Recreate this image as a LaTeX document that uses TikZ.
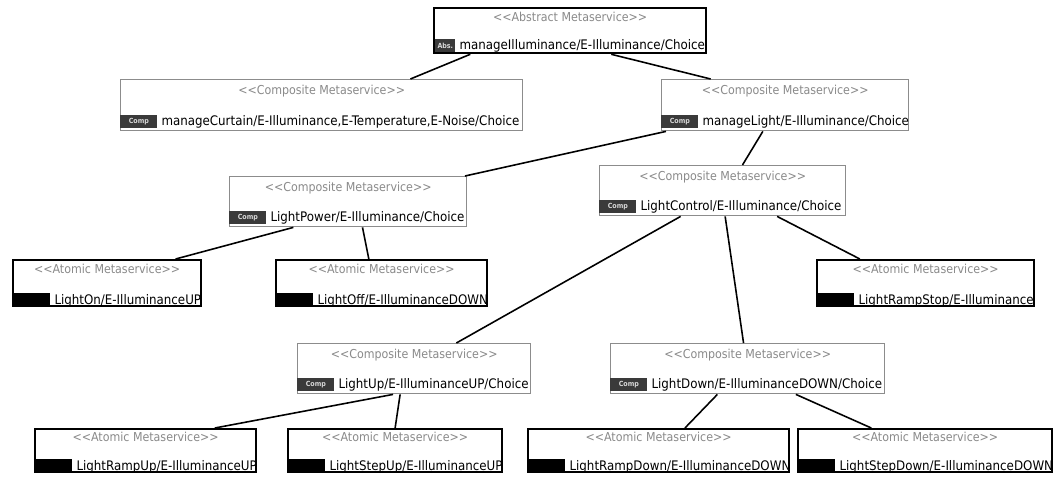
\documentclass[tikz,border=0pt]{standalone}
\usepackage{fontspec}
\usepackage{tikz}
\usetikzlibrary{positioning,calc}
\newfontfamily\metafont{DejaVu Sans Condensed}
\definecolor{tagdark}{HTML}{3A3A3A}
\definecolor{stereogray}{HTML}{8A8A8A}

\begin{document}
\begin{tikzpicture}[x=0.02cm, y=-0.02cm,
  meta/.style={rectangle, anchor=north west, inner sep=0pt, fill=white},
  abstr/.style={meta, draw=black, line width=1.3pt},
  comp/.style={meta, draw=black!45, line width=0.8pt},
  atom/.style={meta, draw=black, line width=1.3pt},
  stereo/.style={anchor=north, inner sep=0pt, text=stereogray,
                 font=\metafont\fontsize{7}{8}\selectfont},
  mname/.style={anchor=south west, inner sep=0pt,
                font=\metafont\fontsize{7.5}{9}\selectfont},
  tag/.style={anchor=south west, fill=tagdark, text=white!85!black, inner sep=0pt,
              minimum width=0.74cm, minimum height=0.26cm,
              font=\metafont\fontsize{4}{5}\selectfont\bfseries},
  atag/.style={tag, fill=black, minimum width=0.76cm, minimum height=0.28cm},
  link/.style={line width=0.9pt, color=black}
]
\useasboundingbox (0,0) rectangle (1054,477);

% abstract root
\node[abstr, minimum width=5.44cm, minimum height=0.90cm] (abs) at (433,7) {};
\node[stereo] at ($(abs.north)+(0,5)$) {<<Abstract Metaservice>>};
\node[tag, minimum width=0.40cm] (abst) at ($(abs.south west)+(2,-2)$) {Abs.};
\node[mname, right=2pt of abst.south east, anchor=south west] {manageIlluminance/E-Illuminance/Choice};

% composite services
\node[comp, minimum width=8.04cm, minimum height=1.02cm] (curtain) at (120,79) {};
\node[stereo] at ($(curtain.north)+(0,6)$) {<<Composite Metaservice>>};
\node[tag] (curtaint) at ($(curtain.south west)+(0,-3)$) {Comp};
\node[mname, right=2pt of curtaint.south east, anchor=south west] {manageCurtain/E-Illuminance,E-Temperature,E-Noise/Choice};

\node[comp, minimum width=4.94cm, minimum height=1.02cm] (light) at (661,79) {};
\node[stereo] at ($(light.north)+(0,6)$) {<<Composite Metaservice>>};
\node[tag] (lightt) at ($(light.south west)+(0,-3)$) {Comp};
\node[mname, right=2pt of lightt.south east, anchor=south west] {manageLight/E-Illuminance/Choice};

\node[comp, minimum width=4.74cm, minimum height=1.00cm] (power) at (229,176) {};
\node[stereo] at ($(power.north)+(0,6)$) {<<Composite Metaservice>>};
\node[tag] (powert) at ($(power.south west)+(0,-3)$) {Comp};
\node[mname, right=2pt of powert.south east, anchor=south west] {LightPower/E-Illuminance/Choice};

\node[comp, minimum width=4.92cm, minimum height=1.00cm] (control) at (599,165) {};
\node[stereo] at ($(control.north)+(0,6)$) {<<Composite Metaservice>>};
\node[tag] (controlt) at ($(control.south west)+(0,-3)$) {Comp};
\node[mname, right=2pt of controlt.south east, anchor=south west] {LightControl/E-Illuminance/Choice};

\node[comp, minimum width=4.66cm, minimum height=1.00cm] (up) at (297,343) {};
\node[stereo] at ($(up.north)+(0,6)$) {<<Composite Metaservice>>};
\node[tag] (upt) at ($(up.south west)+(0,-3)$) {Comp};
\node[mname, right=2pt of upt.south east, anchor=south west] {LightUp/E-IlluminanceUP/Choice};

\node[comp, minimum width=5.48cm, minimum height=1.00cm] (down) at (610,343) {};
\node[stereo] at ($(down.north)+(0,6)$) {<<Composite Metaservice>>};
\node[tag] (downt) at ($(down.south west)+(0,-3)$) {Comp};
\node[mname, right=2pt of downt.south east, anchor=south west] {LightDown/E-IlluminanceDOWN/Choice};

% atomic services
\node[atom, minimum width=3.76cm, minimum height=0.92cm] (on) at (12,259) {};
\node[stereo] at ($(on.north)+(0,5)$) {<<Atomic Metaservice>>};
\node[atag] (ont) at (on.south west) {};
\node[mname, right=2pt of ont.south east, anchor=south west] {LightOn/E-IlluminanceUP};

\node[atom, minimum width=4.22cm, minimum height=0.92cm] (off) at (275,259) {};
\node[stereo] at ($(off.north)+(0,5)$) {<<Atomic Metaservice>>};
\node[atag] (offt) at (off.south west) {};
\node[mname, right=2pt of offt.south east, anchor=south west] {LightOff/E-IlluminanceDOWN};

\node[atom, minimum width=4.34cm, minimum height=0.92cm] (rampstop) at (816,259) {};
\node[stereo] at ($(rampstop.north)+(0,5)$) {<<Atomic Metaservice>>};
\node[atag] (rampstopt) at (rampstop.south west) {};
\node[mname, right=2pt of rampstopt.south east, anchor=south west] {LightRampStop/E-Illuminance};

\node[atom, minimum width=4.42cm, minimum height=0.86cm] (rampup) at (34,428) {};
\node[stereo] at ($(rampup.north)+(0,4)$) {<<Atomic Metaservice>>};
\node[atag] (rampupt) at (rampup.south west) {};
\node[mname, right=2pt of rampupt.south east, anchor=south west] {LightRampUp/E-IlluminanceUP};

\node[atom, minimum width=4.28cm, minimum height=0.86cm] (stepup) at (287,428) {};
\node[stereo] at ($(stepup.north)+(0,4)$) {<<Atomic Metaservice>>};
\node[atag] (stepupt) at (stepup.south west) {};
\node[mname, right=2pt of stepupt.south east, anchor=south west] {LightStepUp/E-IlluminanceUP};

\node[atom, minimum width=5.22cm, minimum height=0.86cm] (rampdown) at (527,428) {};
\node[stereo] at ($(rampdown.north)+(0,4)$) {<<Atomic Metaservice>>};
\node[atag] (rampdownt) at (rampdown.south west) {};
\node[mname, right=2pt of rampdownt.south east, anchor=south west] {LightRampDown/E-IlluminanceDOWN};

\node[atom, minimum width=5.08cm, minimum height=0.86cm] (stepdown) at (797,428) {};
\node[stereo] at ($(stepdown.north)+(0,4)$) {<<Atomic Metaservice>>};
\node[atag] (stepdownt) at (stepdown.south west) {};
\node[mname, right=2pt of stepdownt.south east, anchor=south west] {LightStepDown/E-IlluminanceDOWN};

% links
\draw[link] ($(abs.south west)!.136!(abs.south east)$) -- ($(curtain.north west)!.72!(curtain.north east)$);
\draw[link] ($(abs.south west)!.65!(abs.south east)$) -- ($(light.north west)!.20!(light.north east)$);
\draw[link] ($(light.south west)!.02!(light.south east)$) -- ($(power.north west)!.99!(power.north east)$);
\draw[link] ($(light.south west)!.41!(light.south east)$) -- ($(control.north west)!.58!(control.north east)$);
\draw[link] ($(power.south west)!.27!(power.south east)$) -- ($(on.north west)!.86!(on.north east)$);
\draw[link] ($(power.south west)!.56!(power.south east)$) -- ($(off.north west)!.44!(off.north east)$);
\draw[link] ($(control.south west)!.33!(control.south east)$) -- ($(up.north west)!.68!(up.north east)$);
\draw[link] ($(control.south west)!.51!(control.south east)$) -- ($(down.north west)!.485!(down.north east)$);
\draw[link] ($(control.south west)!.72!(control.south east)$) -- ($(rampstop.north west)!.20!(rampstop.north east)$);
\draw[link] ($(up.south west)!.41!(up.south east)$) -- ($(rampup.north west)!.81!(rampup.north east)$);
\draw[link] ($(up.south west)!.44!(up.south east)$) -- ($(stepup.north west)!.50!(stepup.north east)$);
\draw[link] ($(down.south west)!.39!(down.south east)$) -- ($(rampdown.north west)!.60!(rampdown.north east)$);
\draw[link] ($(down.south west)!.675!(down.south east)$) -- ($(stepdown.north west)!.29!(stepdown.north east)$);
\end{tikzpicture}
\end{document}
